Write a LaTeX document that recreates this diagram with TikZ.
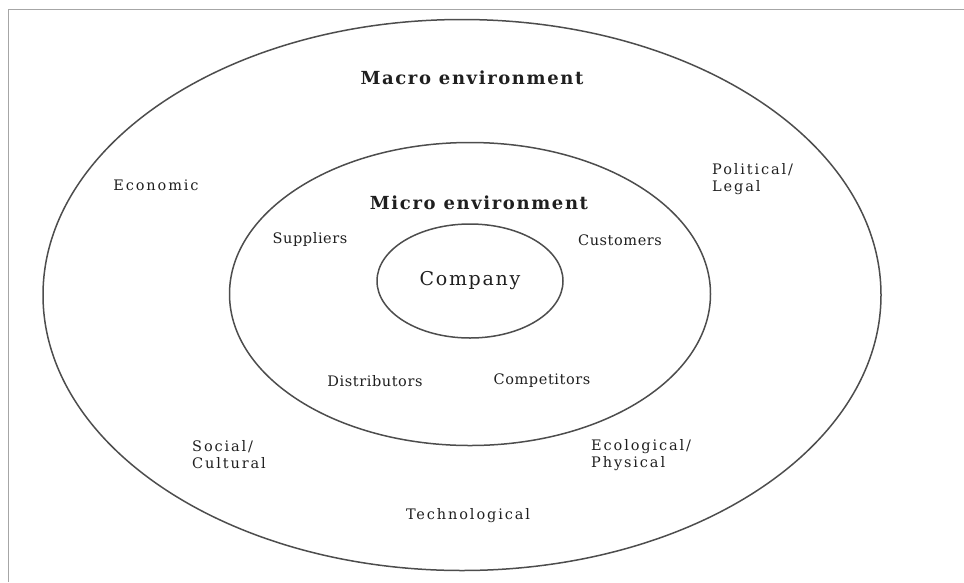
\documentclass[tikz,border=0pt]{standalone}
\usepackage{fontspec}
\setmainfont{DejaVu Serif}
\newfontfamily\ringfont{DejaVu Serif}[LetterSpace=13]
\newfontfamily\innerfont{DejaVu Serif}[LetterSpace=4]
\newfontfamily\companyfont{DejaVu Serif}[LetterSpace=9]
\newfontfamily\headfont{DejaVu Serif}[LetterSpace=9]
\usepackage{tikz}
\usetikzlibrary{shapes.geometric, positioning}
\definecolor{RingGray}{HTML}{4D4D4D}
\definecolor{FrameGray}{HTML}{A6A6A6}
\definecolor{InkGray}{HTML}{1F1F1F}

\tikzset{
    ring/.style={ellipse, draw=RingGray, line width=1.5pt, inner sep=0pt},
    headlabel/.style={font=\headfont\bfseries\fontsize{18}{19}\selectfont, text=InkGray, inner sep=0pt},
    macrolabel/.style={font=\ringfont\fontsize{14.5}{17}\selectfont, text=InkGray, align=left, inner sep=0pt},
    microlabel/.style={font=\innerfont\fontsize{14.5}{17}\selectfont, text=InkGray, inner sep=0pt}
}

\begin{document}
\begin{tikzpicture}[x=1pt, y=-1pt]
    \useasboundingbox (0,0) rectangle (964,582);
    % frame
    \draw[FrameGray, line width=1pt] (8,582) -- (8,9) -- (964,9);

    % rings
    \node[ring, minimum width=838pt, minimum height=551pt] (macro) at (462,295) {};
    \node[ring, minimum width=481pt, minimum height=303pt] (micro) at (470,294) {};
    \node[ring, minimum width=186pt, minimum height=114pt,
          font=\companyfont\fontsize{19}{20}\selectfont, text=InkGray] (company) at (470,281) {Company};

    % macro environment
    \node[headlabel] (macrohead) at (472,78) {Macro environment};
    \node[macrolabel] (economic) at (156,185) {Economic};
    \node[macrolabel, anchor=west] (political) at (712,179) {Political/\\Legal};
    \node[macrolabel, anchor=west] (social) at (192,455) {Social/\\Cultural};
    \node[macrolabel, anchor=west] (ecological) at (591,455) {Ecological/\\Physical};
    \node[macrolabel] (techno) at (468,516) {Technological};

    % micro environment
    \node[headlabel] (microhead) at (479,203) {Micro environment};
    \node[microlabel] (suppliers) at (310,239) {Suppliers};
    \node[microlabel] (customers) at (620,240) {Customers};
    \node[microlabel] (distrib) at (375,381) {Distributors};
    \node[microlabel] (compet) at (542,381) {Competitors};
\end{tikzpicture}
\end{document}
